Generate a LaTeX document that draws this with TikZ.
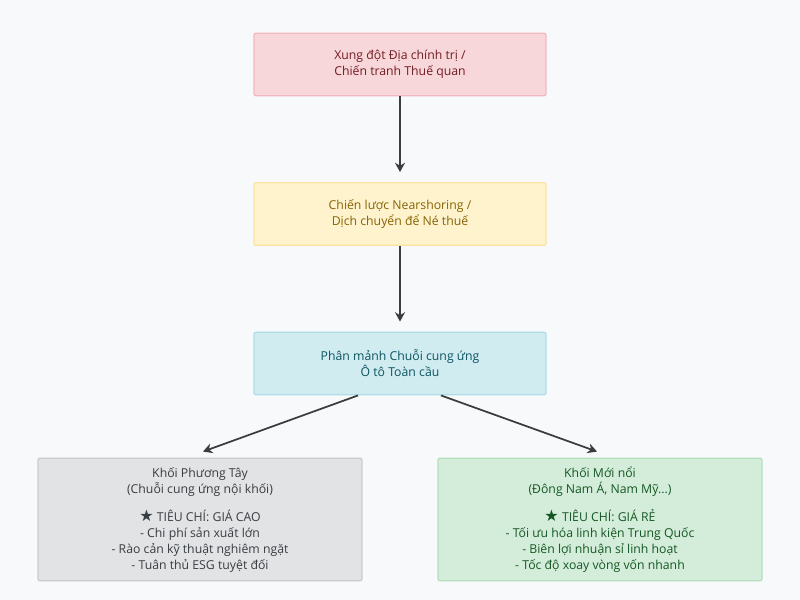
\documentclass[tikz,border=0pt]{standalone}
\usepackage{fontspec}
\setmainfont{Open Sans}
\newfontfamily\starfont{DejaVu Sans}
\usepackage{tikz}
\usetikzlibrary{arrows.meta,positioning,calc}
\definecolor{pagebg}{HTML}{F8F9FA}
\definecolor{redfill}{HTML}{F8D7DA}
\definecolor{redline}{HTML}{F1B9BF}
\definecolor{redtext}{HTML}{721C24}
\definecolor{yellowfill}{HTML}{FFF3CD}
\definecolor{yellowline}{HTML}{FBE3A1}
\definecolor{yellowtext}{HTML}{856404}
\definecolor{cyanfill}{HTML}{D1ECF1}
\definecolor{cyanline}{HTML}{ADDDE6}
\definecolor{cyantext}{HTML}{0C5460}
\definecolor{grayfill}{HTML}{E2E3E5}
\definecolor{grayline}{HTML}{CACBCE}
\definecolor{graytext}{HTML}{383D41}
\definecolor{greenfill}{HTML}{D4EDDA}
\definecolor{greenline}{HTML}{B4DEBE}
\definecolor{greentext}{HTML}{155724}
\definecolor{arrowgray}{HTML}{3C3C3C}
\newcommand{\crit}{{\starfont\large ★}}

\begin{document}
\begin{tikzpicture}[
  x=0.75pt, y=-0.75pt,
  box/.style={draw, line width=0.9pt, rounded corners=1.5pt, align=center, inner sep=0pt, font=\fontsize{9.2}{12}\selectfont},
  stagebox/.style={box, minimum width=219pt, minimum height=47pt},
  blocbox/.style={box, minimum width=243pt, minimum height=92pt},
  arrow/.style={-{Stealth[length=7pt, width=7.5pt]}, line width=1.3pt, arrowgray}
]
\useasboundingbox[fill=pagebg] (0,0) rectangle (800,600);

% Causal chain, top to bottom.
\node[stagebox, fill=redfill, draw=redline, text=redtext] (conflict) at (400,64.5)
  {Xung đột Địa chính trị /\\Chiến tranh Thuế quan};
\node[stagebox, fill=yellowfill, draw=yellowline, text=yellowtext] (nearshore) at (400,214)
  {Chiến lược Nearshoring /\\Dịch chuyển để Né thuế};
\node[stagebox, fill=cyanfill, draw=cyanline, text=cyantext] (fragment) at (400,363.5)
  {Phân mảnh Chuỗi cung ứng\\Ô tô Toàn cầu};

% The two resulting blocs.
\node[blocbox, fill=grayfill, draw=grayline, text=graytext] (western) at (200,519.5)
  {Khối Phương Tây\\(Chuỗi cung ứng nội khối)\\[9pt]
   \crit{} TIÊU CHÍ: GIÁ CAO\\- Chi phí sản xuất lớn\\- Rào cản kỹ thuật nghiêm ngặt\\- Tuân thủ ESG tuyệt đối};
\node[blocbox, fill=greenfill, draw=greenline, text=greentext] (emerging) at (600,519.5)
  {Khối Mới nổi\\(Đông Nam Á, Nam Mỹ...)\\[9pt]
   \crit{} TIÊU CHÍ: GIÁ RẺ\\- Tối ưu hóa linh kiện Trung Quốc\\- Biên lợi nhuận sỉ linh hoạt\\- Tốc độ xoay vòng vốn nhanh};

\draw[arrow, shorten >=7.5pt] (conflict) -- (nearshore);
\draw[arrow, shorten >=7.5pt] (nearshore) -- (fragment);
\draw[arrow] ($(fragment.south)+(-42,0)$) -- ($(western.north)+(3,-6)$);
\draw[arrow] ($(fragment.south)+(41,0)$) -- ($(emerging.north)+(-3,-6)$);
\end{tikzpicture}
\end{document}
